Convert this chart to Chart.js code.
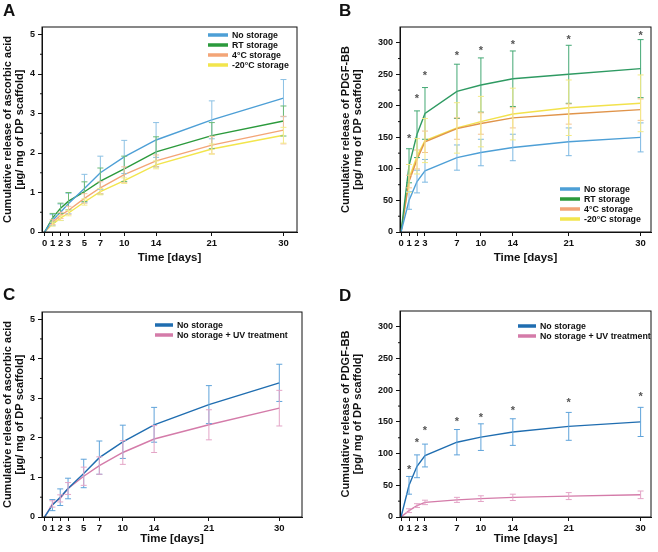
<!DOCTYPE html>
<html>
<head>
<meta charset="utf-8">
<script src="https://cdn.jsdelivr.net/npm/chart.js@4"></script>
<style>
  html, body { margin: 0; padding: 0; background: #fff; }
  #wrap { position: relative; width: 658px; height: 552px; overflow: hidden; }
  .panel { position: absolute; width: 329px; height: 276px; }
  .letter { position: absolute; font: bold 17px "Liberation Sans", Arial, sans-serif; color: #111; }
</style>
</head>
<body>
<div id="wrap">
  <div class="panel" style="left:0;top:0"><canvas id="chartA"></canvas></div>
  <div class="panel" style="left:329px;top:0"><canvas id="chartB"></canvas></div>
  <div class="panel" style="left:0;top:276px"><canvas id="chartC"></canvas></div>
  <div class="panel" style="left:329px;top:276px"><canvas id="chartD"></canvas></div>
  <div class="letter" style="left:3px;top:1px">A</div>
  <div class="letter" style="left:339px;top:1px">B</div>
  <div class="letter" style="left:3px;top:285px">C</div>
  <div class="letter" style="left:339px;top:286px">D</div>
</div>
<script>
// --- data: ascorbic acid (A, C) ---
const daysAC = [0, 1, 2, 3, 5, 7, 10, 14, 21, 30];
const ascNoStorage = [0, 0.30, 0.50, 0.72, 1.10, 1.50, 1.90, 2.33, 2.84, 3.39];
const ascNoStorageErr = [0, 0.14, 0.21, 0.26, 0.36, 0.42, 0.42, 0.44, 0.48, 0.47];
const ascRT = [0, 0.36, 0.60, 0.78, 1.02, 1.29, 1.60, 2.03, 2.44, 2.81];
const ascRTErr = [0, 0.11, 0.13, 0.22, 0.25, 0.33, 0.32, 0.38, 0.33, 0.38];
const asc4C = [0, 0.25, 0.42, 0.55, 0.85, 1.12, 1.45, 1.80, 2.20, 2.58];
const asc4CErr = [0, 0.06, 0.08, 0.10, 0.12, 0.15, 0.20, 0.15, 0.22, 0.35];
const ascM20 = [0, 0.20, 0.35, 0.48, 0.76, 1.02, 1.30, 1.70, 2.10, 2.45];
const ascM20Err = [0, 0.05, 0.06, 0.07, 0.08, 0.08, 0.07, 0.10, 0.13, 0.20];
const ascUV = [0, 0.33, 0.47, 0.72, 1.03, 1.30, 1.63, 1.97, 2.33, 2.75];
const ascUVErr = [0, 0.08, 0.09, 0.15, 0.23, 0.22, 0.30, 0.34, 0.38, 0.45];
const ascTicks = [0, 1, 2, 3, 4, 5];
const ascMinor = [0.5, 1.5, 2.5, 3.5, 4.5];

// --- data: PDGF-BB (B, D) ---
const daysBD = [0, 1, 2, 3, 7, 10, 14, 21, 30];
const pdgfNoStorage = [0, 50, 80, 97, 118, 126, 134, 143, 150];
const pdgfNoStorageErr = [0, 14, 18, 18, 20, 21, 21, 22, 23];
const pdgfRT = [0, 105, 155, 188, 223, 233, 243, 250, 259];
const pdgfRTErr = [0, 27, 37, 41, 43, 43, 44, 46, 46];
const pdgf4C = [0, 80, 115, 143, 164, 172, 181, 187, 194];
const pdgf4CErr = [0, 10, 15, 17, 17, 17, 16, 16, 17];
const pdgfM20 = [0, 85, 120, 145, 165, 175, 187, 197, 204];
const pdgfM20Err = [0, 22, 28, 35, 40, 40, 41, 44, 45];
const pdgfUV = [0, 10, 18, 23, 27, 29, 31, 33, 35];
const pdgfUVErr = [0, 3, 3, 3.5, 4, 4.5, 5, 5.5, 6];
const starsB = [null, 151, 214, 250, 283, 290, 300, 308, 314];
const starsD = [null, 78, 120, 139, 153, 160, 170, 183, 193];
const pdgfTicks = [0, 50, 100, 150, 200, 250, 300];
const pdgfMinor = [25, 75, 125, 175, 225, 275];

const FONT = '"Liberation Sans", Arial, sans-serif';

// error bars, stars, minor ticks, frame and legend
const extras = {
  id: 'extras',
  afterDatasetsDraw(chart) {
    const { ctx, chartArea: a, scales: { x, y } } = chart;
    const o = chart.options.plugins.extras;
    ctx.save();
    chart.data.datasets.forEach(ds => {
      if (!ds.errorBars) return;
      ctx.strokeStyle = ds.errorColor;
      ctx.lineWidth = 1;
      ds.data.forEach((p, i) => {
        const e = ds.errorBars[i];
        if (!e) return;
        const px = x.getPixelForValue(p.x);
        const t = y.getPixelForValue(p.y + e), b = y.getPixelForValue(p.y - e);
        ctx.beginPath();
        ctx.moveTo(px, t); ctx.lineTo(px, b);
        ctx.moveTo(px - 3, t); ctx.lineTo(px + 3, t);
        ctx.moveTo(px - 3, b); ctx.lineTo(px + 3, b);
        ctx.stroke();
      });
    });
    if (o.stars) {
      ctx.fillStyle = '#555';
      ctx.font = 'bold 11px ' + FONT;
      ctx.textAlign = 'center';
      ctx.textBaseline = 'middle';
      o.stars.forEach((v, i) => {
        if (v == null) return;
        ctx.fillText('*', x.getPixelForValue(o.days[i]), y.getPixelForValue(v) + 2);
      });
    }
    // frame
    ctx.strokeStyle = '#111';
    ctx.lineWidth = 1;
    ctx.strokeRect(a.left, a.top, a.right - a.left, a.bottom - a.top);
    // minor ticks
    ctx.beginPath();
    o.minor.forEach(v => {
      const py = y.getPixelForValue(v);
      ctx.moveTo(a.left - 2, py); ctx.lineTo(a.left, py);
    });
    ctx.stroke();
    // legend
    const lg = o.legend;
    ctx.font = 'bold 8.8px ' + FONT;
    ctx.textAlign = 'left';
    ctx.textBaseline = 'middle';
    chart.data.datasets.forEach((ds, i) => {
      const ly = a.top + lg.y + i * 10;
      ctx.strokeStyle = ds.legendColor || ds.borderColor;
      ctx.lineWidth = 3.5;
      ctx.beginPath();
      ctx.moveTo(a.left + lg.x, ly); ctx.lineTo(a.left + lg.x + lg.w, ly);
      ctx.stroke();
      ctx.fillStyle = '#111';
      ctx.fillText(ds.label, a.left + lg.x + lg.w + 4, ly + 0.5);
    });
    ctx.restore();
  }
};

function series(label, days, vals, errs, color, errColor, legendColor) {
  return {
    label, data: days.map((d, i) => ({ x: d, y: vals[i] })),
    errorBars: errs, errorColor: errColor, legendColor,
    borderColor: color, borderWidth: 1.4, pointRadius: 0, tension: 0, fill: false
  };
}

function makePanel(id, cfg) {
  new Chart(document.getElementById(id), {
    type: 'line',
    data: { datasets: cfg.datasets },
    options: {
      responsive: true, maintainAspectRatio: false, animation: false,
      layout: { padding: { left: 0, top: cfg.top, right: cfg.right, bottom: 0 } },
      plugins: {
        legend: { display: false }, tooltip: { enabled: false },
        extras: { legend: cfg.legend, minor: cfg.minor, stars: cfg.stars, days: cfg.days }
      },
      scales: {
        x: {
          type: 'linear', min: cfg.xMin, max: cfg.xMax,
          afterBuildTicks: s => { s.ticks = cfg.days.map(v => ({ value: v })); },
          afterFit: s => { s.height = cfg.xH; },
          grid: { drawOnChartArea: false, drawTicks: true, tickLength: 4, tickColor: '#111' },
          border: { display: true, color: '#111' },
          ticks: { color: '#111', font: { family: FONT, size: 9.5, weight: 'bold' }, padding: 2, maxRotation: 0, autoSkip: false },
          title: { display: true, text: 'Time [days]', color: '#111',
                   font: { family: FONT, size: 11.5, weight: 'bold' }, padding: { top: 0, bottom: cfg.xTitlePad } }
        },
        y: {
          type: 'linear', min: 0, max: cfg.yMax,
          afterBuildTicks: s => { s.ticks = cfg.yTicks.map(v => ({ value: v })); },
          afterFit: s => { s.width = cfg.yW; },
          grid: { drawOnChartArea: false, drawTicks: true, tickLength: 4, tickColor: '#111' },
          border: { display: true, color: '#111' },
          ticks: { color: '#111', font: { family: FONT, size: 9, weight: 'bold' }, padding: 3 },
          title: { display: true, text: cfg.yTitle, color: '#111',
                   font: { family: FONT, size: 11, weight: 'bold', lineHeight: 1.1 }, padding: { top: cfg.yTitlePad, bottom: 0 } }
        }
      }
    },
    plugins: [extras]
  });
}

const ascTitle = ['Cumulative release of ascorbic acid', '[µg/ mg of DP scaffold]'];
const pdgfTitle = ['Cumulative release of PDGF-BB', '[pg/ mg of DP scaffold]'];

makePanel('chartA', {
  days: daysAC, xMin: -0.33, xMax: 31.7, yMax: 5.19, yTicks: ascTicks, minor: ascMinor,
  yW: 42, xH: 44, top: 27, right: 32, xTitlePad: 11, yTitlePad: 2, yTitle: ascTitle,
  legend: { x: 166, y: 8, w: 20 },
  datasets: [
    series('No storage', daysAC, ascNoStorage, ascNoStorageErr, '#4d9fd6', '#8cc1e4'),
    series('RT storage', daysAC, ascRT, ascRTErr, '#2b9a3c', '#6cbb78'),
    series('4°C storage', daysAC, asc4C, asc4CErr, '#f3a577', '#f6c3a3'),
    series('-20°C storage', daysAC, ascM20, ascM20Err, '#f2e54c', '#f4ec8e')
  ]
});

makePanel('chartB', {
  days: daysBD, xMin: -0.13, xMax: 31.3, yMax: 325, yTicks: pdgfTicks, minor: pdgfMinor, stars: starsB,
  yW: 71, xH: 44, top: 27, right: 7, xTitlePad: 11, yTitlePad: 11, yTitle: pdgfTitle,
  legend: { x: 160, y: 162, w: 20 },
  datasets: [
    series('No storage', daysBD, pdgfNoStorage, pdgfNoStorageErr, '#4d9fd6', '#7cb8e2', '#4d9fd6'),
    series('RT storage', daysBD, pdgfRT, pdgfRTErr, '#2e9a62', '#43a874', '#2b9a3c'),
    series('4°C storage', daysBD, pdgf4C, pdgf4CErr, '#e0944a', '#f2c190', '#f3a577'),
    series('-20°C storage', daysBD, pdgfM20, pdgfM20Err, '#f2e24c', '#f4ea86', '#f2e54c')
  ]
});

makePanel('chartC', {
  days: daysAC, xMin: -0.33, xMax: 32.9, yMax: 5.18, yTicks: ascTicks, minor: ascMinor,
  yW: 42, xH: 35, top: 36, right: 27, xTitlePad: 6, yTitlePad: 2, yTitle: ascTitle,
  legend: { x: 113, y: 13, w: 18 },
  datasets: [
    series('No storage', daysAC, ascNoStorage, ascNoStorageErr, '#1f6db0', '#5fa3da'),
    series('No storage + UV treatment', daysAC, ascUV, ascUVErr, '#d47ba9', '#e4a5c7')
  ]
});

makePanel('chartD', {
  days: daysBD, xMin: -0.13, xMax: 31.3, yMax: 325, yTicks: pdgfTicks, minor: pdgfMinor, stars: starsD,
  yW: 71, xH: 35, top: 35, right: 7, xTitlePad: 6, yTitlePad: 11, yTitle: pdgfTitle,
  legend: { x: 118, y: 15, w: 18 },
  datasets: [
    series('No storage', daysBD, pdgfNoStorage, pdgfNoStorageErr, '#1f6db0', '#5fa3da'),
    series('No storage + UV treatment', daysBD, pdgfUV, pdgfUVErr, '#d47ba9', '#e4a5c7')
  ]
});
</script>
</body>
</html>
